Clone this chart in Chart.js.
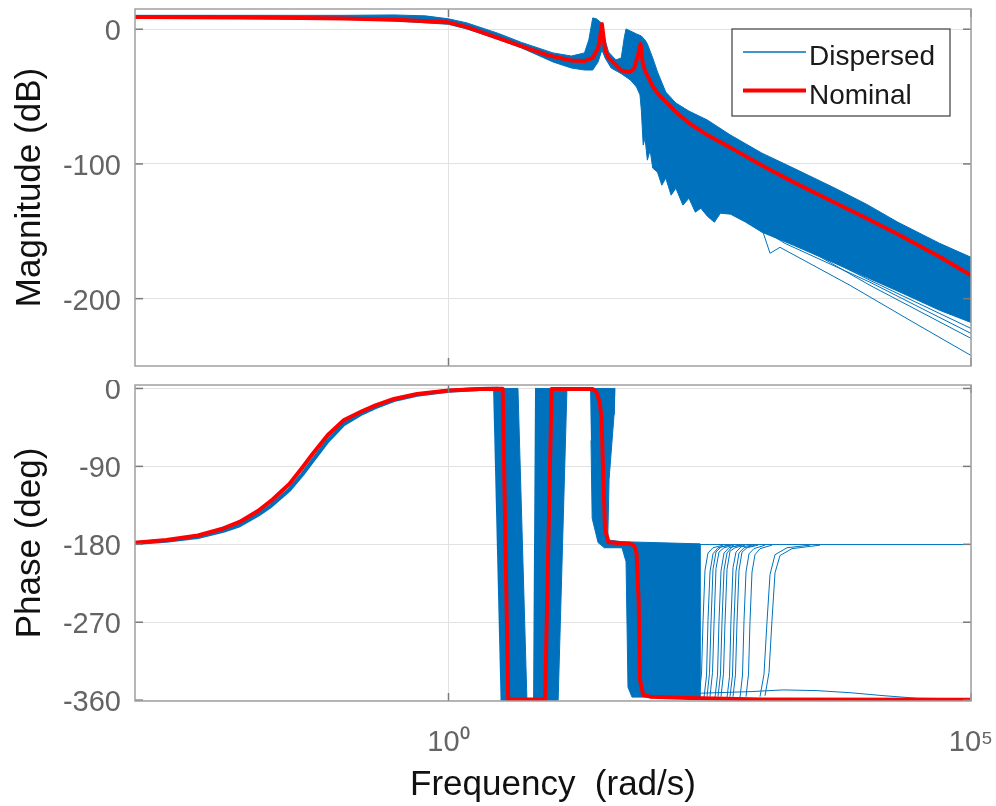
<!DOCTYPE html>
<html>
<head>
<meta charset="utf-8">
<script src="https://cdn.jsdelivr.net/npm/chart.js@4.4.1/dist/chart.umd.min.js"></script>
<style>
html, body { margin: 0; padding: 0; background: #fff; overflow: hidden; width: 996px; height: 806px; }
#magWrap { position: absolute; left: 0; top: 0; width: 996px; height: 380px; }
#phWrap { position: absolute; left: 0; top: 380px; width: 996px; height: 450px; }
canvas { display: block; }
</style>
</head>
<body>
<div id="magWrap"><canvas id="mag" width="996" height="380"></canvas></div>
<div id="phWrap"><canvas id="ph" width="996" height="450"></canvas></div>
<script>
// ---------------- tick labels / legend ----------------
const freqTicks = [1, 100000];
const freqTickLabels = ['10\u2070', '10\u2075'];
const magTicks = [0, -100, -200];
const phaseTicks = [0, -90, -180, -270, -360];
const legendLabels = ['Dispersed', 'Nominal'];

// ---------------- magnitude (dB) ----------------
const magNomFreq = [0.001, 0.01, 0.1, 0.3, 0.5, 1, 1.5, 2, 3, 4, 6, 9, 15, 20, 24, 27, 28, 29, 29.4, 31.5, 34, 40, 45, 55, 60, 66, 68.8, 72, 76, 80, 90, 100, 120, 150, 200, 300, 500, 1000, 2000, 5000, 10000, 20000, 50000, 100000];
const magNomDb = [9.1, 8.9, 8.0, 7.0, 6.2, 5.1, 1.5, -1.8, -6.6, -10.0, -14.8, -19.4, -23.2, -23.6, -21.3, -13.9, -8.0, 1.0, 3.9, -15.4, -21.3, -26.5, -30.6, -31.7, -28.8, -17.6, -10.9, -24.3, -31.0, -34.3, -42.5, -47.4, -53.7, -61.5, -69.7, -78.6, -87.9, -101.2, -113.5, -128.8, -140.3, -152.2, -168.9, -182.7];

// dispersed family envelope (upper edge, lower edge)
const magUpperFreq = [0.001, 0.1, 0.3, 0.6, 1, 1.5, 3, 5, 10, 15, 20, 22, 24, 26, 29, 31.5, 34, 40, 45, 48, 50, 55, 63, 70, 76, 80, 90, 100, 120, 150, 200, 300, 500, 1000, 2000, 5000, 10000, 20000, 50000, 100000];
const magUpperDb = [10.3, 10.3, 10.6, 9.9, 7.7, 4.7, -3.1, -9.8, -17.6, -19.9, -17.6, -8.0, 8.4, 7.7, 4.7, -8.0, -16.9, -22.8, -21.3, -6.5, 0.2, -1.3, -3.5, -5.0, -8.0, -10.9, -21.3, -31.7, -46.7, -54.8, -60.8, -67.4, -78.6, -92.0, -103.1, -118.0, -129.9, -143.3, -158.9, -169.3];
const magLowerFreq = [0.001, 0.1, 0.3, 1, 1.5, 3, 5, 10, 15, 20, 24, 27, 29.4, 31.5, 36, 45, 55, 63, 68, 70, 73, 76, 80, 85, 90, 100, 110, 120, 135, 150, 175, 200, 230, 260, 300, 350, 400, 500, 700, 1000, 2000, 5000, 10000, 20000, 50000, 100000];
const magLowerDb = [8.0, 7.3, 6.2, 3.6, 0.2, -7.6, -13.9, -24.3, -28.8, -30.3, -30.3, -24.3, -15.4, -21.3, -28.8, -33.0, -37.7, -42.9, -48.8, -60.0, -86.0, -80.8, -97.2, -89.7, -103.1, -106.1, -115.8, -110.5, -123.2, -118.0, -130.6, -125.4, -135.8, -132.9, -138.8, -143.3, -136.6, -137.3, -143.3, -150.7, -160.4, -173.8, -184.2, -194.5, -208.6, -217.7];

// individual outlying dispersed curves (null separates curves)
const magOutFreq = [462, 688, 957, 1194, 1487, 6950, 26060, 100000, null, 616, 1116, 1332, 2310, 10790, 100000, null, 768, 1853, 10790, 100000, null, 552, 1660, 10790, 100000];
const magOutDb = [-130.6, -138.1, -144.0, -166.3, -161.9, -190.1, -216.1, -242.2, null, -132.9, -140.3, -152.9, -160.4, -190.1, -229.5, null, -138.1, -156.7, -186.4, -222.1, null, -136.0, -159.0, -187.8, -225.8];

// ---------------- phase (deg) ----------------
const phNomFreq = [0.001, 0.002, 0.004, 0.007, 0.01, 0.015, 0.02, 0.03, 0.04, 0.05, 0.07, 0.1, 0.15, 0.2, 0.3, 0.5, 1, 2, 3.3, 3.73, 8.4, 9.7, 24, 26, 28, 29.2, 30.3, 31.5, 34, 45, 55, 60, 63, 66, 68, 73, 85, 200, 1000, 100000];
const phNomDeg = [-178.1, -175.0, -169.8, -161.7, -154.2, -141.5, -129.9, -110.3, -91.2, -75.7, -53.7, -36.4, -26.0, -19.6, -12.1, -6.4, -2.3, -0.5, -0.2, -359.2, -359.2, -0.5, -0.6, -4.0, -16.0, -36.0, -106.0, -163.0, -177.5, -178.8, -179.5, -182.0, -190.0, -245.0, -336.7, -354.0, -356.0, -357.5, -359.2, -359.5];

const phDispLeftFreq = [0.001, 0.002, 0.004, 0.007, 0.01, 0.015, 0.02, 0.03, 0.04, 0.05, 0.07, 0.1, 0.15, 0.2, 0.3, 0.5, 1, 2, 3.0];
const phDispLeftDeg = [-178.5, -176.0, -171.5, -164.5, -158.0, -146.0, -135.5, -117.0, -99.0, -83.5, -60.5, -41.0, -28.5, -21.5, -13.5, -7.2, -2.7, -0.7, -0.2];

// outlines of the dense dispersed regions
const phStrip1Freq = [2.67, 4.62, 5.63, 3.15];
const phStrip1Deg = [0, 0, -360, -360];
const phStrip2Freq = [6.73, 13.6, 11.2, 6.44];
const phStrip2Deg = [0, 0, -360, -360];
const phStepFreq = [22.6, 39.2, 38.4, 34.4, 33.4, 45.7, 255, 255, 57.0, 52.2, 50.0, 45.7, 31.0, 27.0, 23.7, 23.1];
const phStepDeg = [0, 0, -30, -105, -175, -177, -179.5, -356.5, -356.5, -345, -200, -184, -184, -178, -150, -60];

// individual dispersed curves on the right (null separates curves)
const phOutFreq = [
  249.6, 263.7, 272.5, 284.8, 304.2, 339.7, 423.5, null,
  278.6, 294.4, 304.2, 317.9, 339.7, 379.3, 472.8, null,
  297.6, 314.5, 325.1, 339.7, 362.9, 405.2, 505.0, null,
  317.9, 336.1, 347.3, 362.9, 387.7, 432.9, 539.7, null,
  355.0, 375.2, 387.7, 405.2, 432.9, 483.4, 602.5, null,
  379.3, 400.7, 414.2, 432.9, 462.5, 516.4, 643.6, null,
  405.2, 428.2, 442.5, 462.5, 494.2, 551.6, 687.6, null,
  462.5, 488.7, 505.0, 527.9, 563.9, 629.5, 802.4, null,
  494.2, 522.1, 539.7, 563.9, 602.5, 672.6, 857.0, null,
  527.9, 557.8, 576.5, 602.5, 643.6, 718.8, 915.5, null,
  615.9, 650.9, 672.6, 703.1, 750.8, 838.0, 1068, null,
  703.1, 742.7, 767.8, 802.4, 857.0, 957.0, 1246, null,
  957, 1045, 1116, 1193, 1332, 1735, 2879, null,
  1068, 1167, 1246, 1332, 1487, 1937, 3589, null,
  255, 100000, null,
  255, 768, 1589, 3357, 6950, 14390, 30410, 100000
];
const phOutDeg = [
  -356, -330, -270, -210, -190, -184, -181, null,
  -357, -332, -268, -212, -191, -184, -181, null,
  -356, -329, -271, -209, -189, -183, -181, null,
  -356, -328, -272, -208, -189, -184, -181, null,
  -357, -331, -269, -211, -190, -184, -181, null,
  -356, -330, -270, -210, -190, -183, -181, null,
  -356, -329, -271, -209, -188, -184, -181, null,
  -357, -333, -267, -207, -189, -183, -181, null,
  -356, -331, -269, -211, -190, -184, -181, null,
  -356, -330, -270, -210, -189, -184, -181, null,
  -357, -331, -268, -212, -191, -185, -181, null,
  -356, -330, -269, -212, -192, -185, -181, null,
  -356, -330, -270, -215, -192, -184, -181, null,
  -355, -328, -268, -213, -193, -185, -181, null,
  -180.3, -180.3, null,
  -352.0, -350.2, -348.2, -349.0, -351.4, -354.8, -357.8, -358.6
];

// ---------------- styling ----------------
const BLUE = '#0072BD';
const RED = '#FF0000';
const GRID = '#e2e2e2';
const TICK = '#646464';
const TITLE = '#111111';
const FONT = "'Liberation Sans', Arial, Helvetica, sans-serif";
Chart.defaults.font.family = FONT;

function pts(fx, fy) { return fx.map((f, i) => ({ x: f, y: fy[i] })); }
function polygon(fu, yu, fl, yl) { return pts(fu, yu).concat(pts(fl, yl).reverse()); }

const boxPlugin = {
  id: 'matlabBox',
  afterDraw(chart, args, opts) {
    const ctx = chart.ctx, a = chart.chartArea;
    ctx.save();
    const seg = (x1, y1, x2, y2) => { ctx.beginPath(); ctx.moveTo(x1, y1); ctx.lineTo(x2, y2); ctx.stroke(); };
    ctx.strokeStyle = '#7a7a7a';
    ctx.lineWidth = 1.5;
    const ys = chart.scales.y, xs = chart.scales.x;
    ys.ticks.forEach(t => { const p = ys.getPixelForValue(t.value); seg(a.left, p, a.left + 8, p); seg(a.right - 8, p, a.right, p); });
    xs.ticks.forEach(t => { const p = xs.getPixelForValue(t.value); seg(p, a.bottom, p, a.bottom - 8); seg(p, a.top, p, a.top + 8); });
    ctx.strokeStyle = '#a0a0a0';
    ctx.lineWidth = 1.5;
    ctx.strokeRect(a.left, a.top, a.right - a.left, a.bottom - a.top);
    if (opts && opts.legend) {
      const x0 = a.right - 239, y0 = a.top + 20, w = 218, h = 87;
      ctx.fillStyle = '#ffffff';
      ctx.fillRect(x0, y0, w, h);
      ctx.strokeStyle = '#4a4a4a';
      ctx.lineWidth = 1.3;
      ctx.strokeRect(x0, y0, w, h);
      legendLabels.forEach((lbl, i) => {
        const ds = chart.data.datasets.find(d => d.label === lbl && !d.fill);
        const ly = y0 + 23 + i * 38.5;
        ctx.beginPath();
        ctx.strokeStyle = ds.borderColor;
        ctx.lineWidth = Math.max(ds.borderWidth, 1.5);
        ctx.moveTo(x0 + 11, ly); ctx.lineTo(x0 + 74, ly); ctx.stroke();
        ctx.fillStyle = '#1a1a1a';
        ctx.font = '28px ' + FONT;
        ctx.textAlign = 'left';
        ctx.textBaseline = 'alphabetic';
        ctx.fillText(lbl, x0 + 77, ly + 13);
      });
    }
    ctx.restore();
  }
};

function xScale(showLabels, height) {
  return {
    type: 'logarithmic', min: 0.001, max: 100000,
    afterBuildTicks: s => { s.ticks = freqTicks.map(v => ({ value: v })); },
    afterFit: s => { s.height = height; s.paddingLeft = 0; s.paddingRight = 0; },
    ticks: { display: showLabels, color: TICK, font: { family: FONT, size: 29 }, padding: 25, maxRotation: 0, autoSkip: false,
             callback: (v, i) => freqTickLabels[i] },
    grid: { color: GRID, lineWidth: 1, drawTicks: false },
    border: { display: false },
    title: { display: showLabels, text: 'Frequency  (rad/s)', color: TITLE, font: { family: FONT, size: 35 }, padding: { top: 0, bottom: 24 } }
  };
}
function yScale(min, max, ticks, title) {
  return {
    type: 'linear', min: min, max: max,
    afterBuildTicks: s => { s.ticks = ticks.map(v => ({ value: v })); },
    afterFit: s => { s.width = 135; s.paddingTop = 0; s.paddingBottom = 0; },
    ticks: { color: TICK, font: { family: FONT, size: 29 }, padding: 14, labelOffset: 3, autoSkip: false, callback: v => String(v) },
    grid: { color: GRID, lineWidth: 1, drawTicks: false },
    border: { display: false },
    title: { display: true, text: title, color: TITLE, font: { family: FONT, size: 35 }, padding: { top: 9, bottom: 0 } }
  };
}
function baseOptions(padding, legend, xs, ys) {
  return {
    responsive: false, animation: false, devicePixelRatio: 1, events: [],
    layout: { padding: padding },
    elements: { point: { radius: 0 }, line: { tension: 0, borderJoinStyle: 'round' } },
    plugins: { legend: { display: false }, tooltip: { enabled: false }, matlabBox: { legend: legend } },
    scales: { x: xs, y: ys }
  };
}

new Chart(document.getElementById('mag'), {
  type: 'line',
  data: {
    datasets: [
      { label: 'Nominal', data: pts(magNomFreq, magNomDb), borderColor: RED, borderWidth: 4, fill: false, clip: 0 },
      { label: 'Dispersed', data: pts(magOutFreq, magOutDb), borderColor: BLUE, borderWidth: 1, fill: false, clip: 0 },
      { label: 'Dispersed band', data: polygon(magUpperFreq, magUpperDb, magLowerFreq, magLowerDb), borderColor: BLUE, backgroundColor: BLUE, borderWidth: 1, fill: 'shape', clip: 0 }
    ]
  },
  options: baseOptions({ left: 0, right: 25, top: 9, bottom: 14 }, true, xScale(false, 0), yScale(-250, 15, magTicks, 'Magnitude (dB)')),
  plugins: [boxPlugin]
});

new Chart(document.getElementById('ph'), {
  type: 'line',
  data: {
    datasets: [
      { label: 'Nominal', data: pts(phNomFreq, phNomDeg), borderColor: RED, borderWidth: 4, fill: false, clip: 0 },
      { label: 'Dispersed', data: pts(phOutFreq, phOutDeg), borderColor: BLUE, borderWidth: 1, fill: false, clip: 0 },
      { label: 'Dispersed low', data: pts(phDispLeftFreq, phDispLeftDeg), borderColor: BLUE, borderWidth: 4, fill: false, clip: 0 },
      { label: 'Dispersed wrap 1', data: pts(phStrip1Freq, phStrip1Deg), borderColor: BLUE, backgroundColor: BLUE, borderWidth: 1, fill: 'shape', clip: 0 },
      { label: 'Dispersed wrap 2', data: pts(phStrip2Freq, phStrip2Deg), borderColor: BLUE, backgroundColor: BLUE, borderWidth: 1, fill: 'shape', clip: 0 },
      { label: 'Dispersed step', data: pts(phStepFreq, phStepDeg), borderColor: BLUE, backgroundColor: BLUE, borderWidth: 1, fill: 'shape', clip: 0 }
    ]
  },
  options: baseOptions({ left: 0, right: 25, top: 5, bottom: 0 }, false, xScale(true, 129), yScale(-361, 4, phaseTicks, 'Phase (deg)')),
  plugins: [boxPlugin]
});
</script>
</body>
</html>
